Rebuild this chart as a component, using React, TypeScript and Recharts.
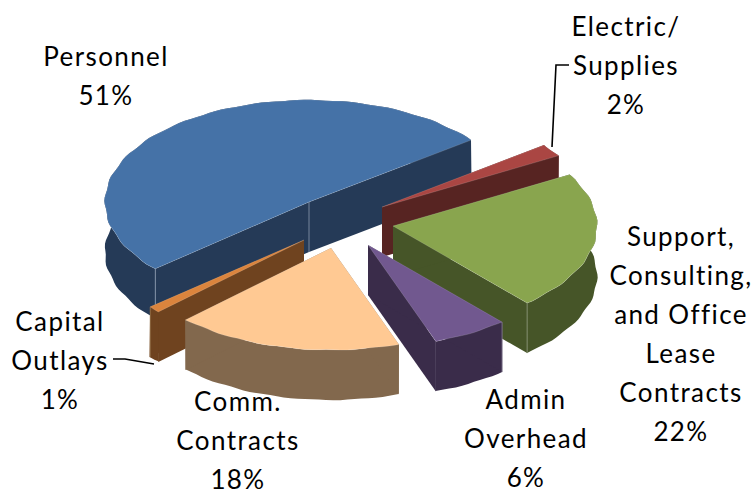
import React from 'react';
import { PieChart, Pie } from 'recharts';

const categories = ['Personnel', 'Electric/Supplies', 'Support', 'Admin Overhead', 'Comm. Contracts', 'Capital Outlays'];
const shares = [51, 2, 22, 6, 18, 1];
const labelLines = [
  ['Personnel'],
  ['Electric/', 'Supplies'],
  ['Support,', 'Consulting,', 'and Office', 'Lease', 'Contracts'],
  ['Admin', 'Overhead'],
  ['Comm.', 'Contracts'],
  ['Capital', 'Outlays'],
];

const chartData = categories.map((name, i) => ({ name, value: shares[i], index: i }));

// Per-slice styling, same order as the categories
const looks = [
  { dx: -1, dy: -1, top: '#4572A7', wall: '#253A57', seam: '#8C9BAE', seams: ['apex', 'start'] },
  { dx: 72, dy: 4, top: '#AA4643', wall: '#572422', seam: '#572422', seams: [] },
  { dx: 83, dy: 23, top: '#89A54E', wall: '#465528', seam: '#8C9678', seams: ['end'] },
  { dx: 58, dy: 42, top: '#71588F', wall: '#3A2C4A', seam: '#8D8499', seams: ['start'] },
  { dx: 21, dy: 45, top: '#FFC993', wall: '#82684D', seam: '#82684D', seams: [] },
  { dx: -6, dy: 37, top: '#DB843D', wall: '#6F431F', seam: '#9A7752', seams: ['end'] },
];

const labelSpots = [
  { x: 106, y: 57 },
  { x: 626, y: 27 },
  { x: 681, y: 237 },
  { x: 526, y: 400 },
  { x: 238, y: 402 },
  { x: 60, y: 322 },
];

const LINE_GAP = 39;
const TILT = 0.5;
const DEPTH = 50;
const RAD = Math.PI / 180;

const rim = (cx: number, cy: number, r: number, deg: number, phase: number) => {
  // the rendered rim is slightly scalloped rather than a clean ellipse
  const rr = r + 0.7 * Math.sin(deg * 0.5 + phase);
  return [cx + rr * Math.cos(deg * RAD), cy - rr * TILT * Math.sin(deg * RAD)];
};

const toPath = (pts: number[][]) => 'M' + pts.map((p) => `${p[0].toFixed(1)},${p[1].toFixed(1)}`).join('L') + 'Z';

const Slice3D = (props: any) => {
  const { cx, cy, outerRadius, startAngle, endAngle, index } = props;
  const look = looks[index];
  const ox = cx + look.dx;
  const oy = cy + look.dy;
  const lo = Math.min(startAngle, endAngle);
  const hi = Math.max(startAngle, endAngle);

  const upper: number[][] = [];
  const lower: number[][] = [];
  for (let a = lo; ; a += 2) {
    const d = Math.min(a, hi);
    upper.push(rim(ox, oy, outerRadius, d, 0));
    const p = rim(ox, oy, outerRadius, d, 2);
    lower.push([p[0], p[1] + DEPTH]);
    if (d === hi) break;
  }
  const first = upper[0];
  const last = upper[upper.length - 1];
  const drop = (p: number[]) => [p[0], p[1] + DEPTH];
  const apex = [ox, oy];

  const edge = (p: number[]) => (
    <line x1={p[0]} y1={p[1]} x2={p[0]} y2={p[1] + DEPTH} stroke={look.seam} strokeWidth={0.8} />
  );

  return (
    <g>
      <path d={toPath([...upper, ...lower.slice().reverse()])} fill={look.wall} />
      <path d={toPath([apex, first, drop(first), drop(apex)])} fill={look.wall} />
      <path d={toPath([apex, last, drop(last), drop(apex)])} fill={look.wall} />
      {look.seams.includes('apex') && edge(apex)}
      {look.seams.includes('start') && edge(last)}
      {look.seams.includes('end') && edge(first)}
      <path d={toPath([apex, ...upper])} fill={look.top} stroke="rgba(255,255,255,0.25)" strokeWidth={0.6} />
    </g>
  );
};

// Personnel and Capital Outlays sit behind the other slices
const backLayer = (props: any) => (props.index === 0 || props.index === 5 ? <Slice3D {...props} /> : <g />);
const frontLayer = (props: any) => (props.index === 0 || props.index === 5 ? <g /> : <Slice3D {...props} />);

const renderLabel = (props: any) => {
  const i = props.index;
  const spot = labelSpots[i];
  const lines = [...labelLines[i], `${shares[i]}%`];
  return (
    <text
      key={i}
      x={spot.x}
      y={spot.y}
      textAnchor="middle"
      fontFamily="Lato, 'Open Sans', sans-serif"
      fontSize={26}
      letterSpacing={1.4}
      fill="#000"
    >
      {lines.map((line, n) => (
        <tspan key={n} x={spot.x} y={spot.y + n * LINE_GAP + 9}>
          {line}
        </tspan>
      ))}
    </text>
  );
};

const pieProps = {
  data: chartData,
  dataKey: 'value',
  nameKey: 'name',
  cx: 310,
  cy: 203,
  outerRadius: 204,
  startAngle: 221,
  endAngle: -139,
  stroke: 'none',
  isAnimationActive: false,
  labelLine: false,
};

export default function App() {
  return (
    <div style={{ position: 'absolute', left: 0, top: 0 }}>
      <PieChart width={752} height={490} margin={{ top: 0, right: 0, bottom: 0, left: 0 }}>
        <Pie {...pieProps} shape={backLayer} />
        <Pie {...pieProps} shape={frontLayer} label={renderLabel} />
        <polyline points="552,147 556,65 569,65" fill="none" stroke="#000" strokeWidth={1.6} />
        <polyline points="113,359 125,359 154,364" fill="none" stroke="#000" strokeWidth={1.6} />
      </PieChart>
    </div>
  );
}
